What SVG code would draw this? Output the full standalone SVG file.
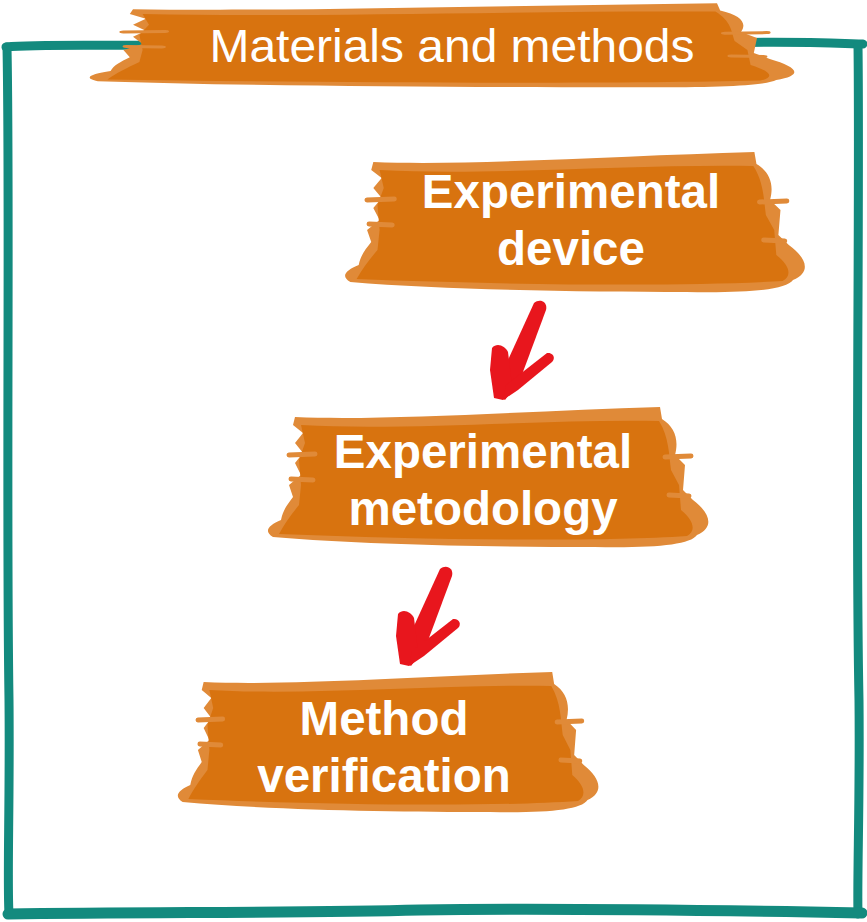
<svg xmlns="http://www.w3.org/2000/svg" xmlns:xlink="http://www.w3.org/1999/xlink" width="867" height="922" viewBox="0 0 867 922">
<style>
.frame{fill:none;stroke:#138A7E;stroke-width:9;stroke-linecap:round;stroke-linejoin:round}
.light{fill:#E08A38}
.dark{fill:#D8730F}
.streak{fill:none;stroke:#E08A38;stroke-width:5;stroke-linecap:round}
.lbl{font-family:"Liberation Sans",Arial,sans-serif;font-weight:bold;font-size:47.5px;fill:#FFFFFF;text-anchor:middle}
.title{font-family:"Liberation Sans",Arial,sans-serif;font-size:46px;fill:#FFFFFF;text-anchor:middle}
.arrow{fill:#E8161D}
</style>
<defs>
<g id="brush">
<path class="light" d="M 30 12 C 120 16 260 6 395 2 L 397 14 C 410 22 414 35 410 50 L 420 60 L 418 85 L 428 95 C 445 108 450 122 432 130 C 425 140 390 143 330 142 C 230 142 100 140 8 132 C -2 126 4 120 16 115 C 18 105 22 100 28 92 L 24 80 L 36 70 L 30 58 L 38 48 L 30 38 L 38 28 L 28 20 Z"/>
<path class="dark" d="M 36 20 C 140 26 280 14 394 16 C 404 32 404 50 406 65 L 414 80 L 416 105 C 428 115 432 125 422 131 C 330 137 160 135 14 129 C 20 118 26 110 34 100 L 36 80 L 34 55 L 40 38 Z"/>
<path class="streak" d="M 24 50 L 50 49 M 26 74 L 48 75 M 400 52 L 426 51 M 404 90 L 424 91"/>
</g>
<g id="arw">
<path class="arrow" d="M 534 303 C 540 298 548 302 546 310 L 520 380 L 505 400 L 494 392 L 508 360 Z"/>
<path class="arrow" d="M 492 348 C 497 342 505 346 508 352 L 512 385 L 503 400 L 494 398 L 490 370 Z"/>
<path class="arrow" d="M 547 353 C 553 352 556 358 552 362 L 518 390 L 503 400 L 506 385 Z"/>
</g>
</defs>

<g id="frame">
<path class="frame" d="M 6 47 C 40 44 100 46 160 45"/>
<path class="frame" d="M 730 43 C 780 41 830 43 863 44"/>
<path class="frame" d="M 7 47 C 10 200 6 500 9 700 C 10 800 7 880 9 914"/>
<path class="frame" d="M 858 45 C 860 200 855 500 859 700 C 860 800 857 880 858 914"/>
<path class="frame" d="M 8 914 C 150 912 300 913 420 910 C 550 908 700 910 862 913" style="stroke-width:11"/>
</g>

<g id="title">
<use xlink:href="#brush" transform="translate(85,2) scale(1.6,0.6)"/>
<text class="title" x="452" y="62" textLength="485" lengthAdjust="spacingAndGlyphs">Materials and methods</text>
</g>

<g id="connectors">
<use xlink:href="#arw"/>
<use xlink:href="#arw" transform="translate(-94,266)"/>
</g>

<g id="node-device">
<use xlink:href="#brush" transform="translate(342,150) scale(1.044,1)"/>
<text class="lbl" x="571" y="208">Experimental</text>
<text class="lbl" x="571" y="265">device</text>
</g>

<g id="node-metodology">
<use xlink:href="#brush" transform="translate(265,405)"/>
<text class="lbl" x="483" y="468">Experimental</text>
<text class="lbl" x="483" y="525">metodology</text>
</g>

<g id="node-verification">
<use xlink:href="#brush" transform="translate(175,670) scale(0.955,1)"/>
<text class="lbl" x="384" y="735">Method</text>
<text class="lbl" x="384" y="792">verification</text>
</g>
</svg>
